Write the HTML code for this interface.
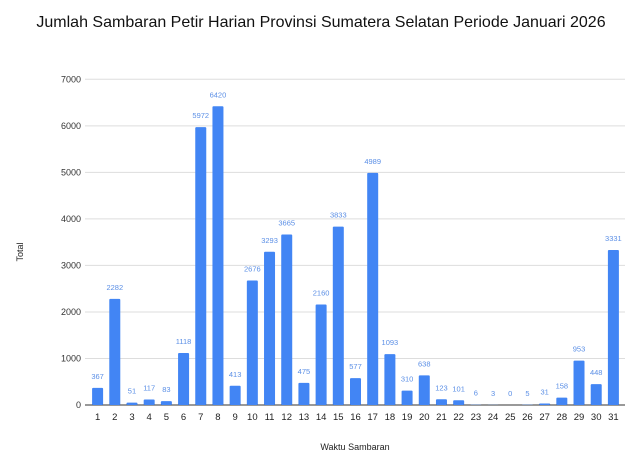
<!DOCTYPE html>
<html><head><meta charset="utf-8"><style>
html,body{margin:0;padding:0;background:#fff;}
svg{display:block;font-family:"Liberation Sans",Arial,sans-serif;}
</style></head><body>
<svg id="chart" width="642" height="466" viewBox="0 0 642 466">
<rect width="642" height="466" fill="#fff"/>
<text x="321" y="27" text-anchor="middle" font-size="16" fill="#111">Jumlah Sambaran Petir Harian Provinsi Sumatera Selatan Periode Januari 2026</text>
<text transform="translate(23,252) rotate(-90)" text-anchor="middle" font-size="9" fill="#222">Total</text>
<text x="355" y="450" text-anchor="middle" font-size="9" fill="#222">Waktu Sambaran</text>
<g id="grid"></g><g id="bars"></g><g id="labels"></g>
</svg>
<script>
const categories = ["1","2","3","4","5","6","7","8","9","10","11","12","13","14","15","16","17","18","19","20","21","22","23","24","25","26","27","28","29","30","31"];
const values = [367,2282,51,117,83,1118,5972,6420,413,2676,3293,3665,475,2160,3833,577,4989,1093,310,638,123,101,6,3,0,5,31,158,953,448,3331];
const yTicks = [0,1000,2000,3000,4000,5000,6000,7000];
const NS="http://www.w3.org/2000/svg";
const left=89, right=622, gLeft=85, gRight=625, y0=405, yTop=79.3, yMax=7000;
const yScale=v=>y0-(v/yMax)*(y0-yTop);
const step=(right-left)/categories.length;
const xCenter=i=>left+step*(i+0.5);
const bw=11;
function mk(t,a){const e=document.createElementNS(NS,t);for(const k in a)e.setAttribute(k,a[k]);return e;}
const grid=document.getElementById('grid'),bars=document.getElementById('bars'),labels=document.getElementById('labels');
yTicks.forEach(t=>{
  const y=yScale(t);
  const l=mk('line',{x1:gLeft,x2:gRight,y1:y,y2:y,stroke:t===0?'#333':'#ddd','stroke-width':1});
  
  
  grid.appendChild(l);
  const tx=mk('text',{x:81,y:y+3,'text-anchor':'end','font-size':9,fill:'#333'});
  tx.textContent=t;
  
  
  grid.appendChild(tx);
});
values.forEach((v,i)=>{
  const cx=xCenter(i), y=yScale(v);
  const r=mk('rect',{x:cx-bw/2,y:y,width:bw,height:Math.max(0,y0-y),fill:'#4285f4',rx:1});
  
  
  bars.appendChild(r);
  const vl=mk('text',{x:cx,y:y-9,'text-anchor':'middle','font-size':7.5,fill:'#5b8fe6'});
  vl.textContent=v;
  
  
  labels.appendChild(vl);
  const xl=mk('text',{x:cx,y:420,'text-anchor':'middle','font-size':9.5,fill:'#222'});
  xl.textContent=categories[i];
  
  
  labels.appendChild(xl);
});
</script>
</body></html>
